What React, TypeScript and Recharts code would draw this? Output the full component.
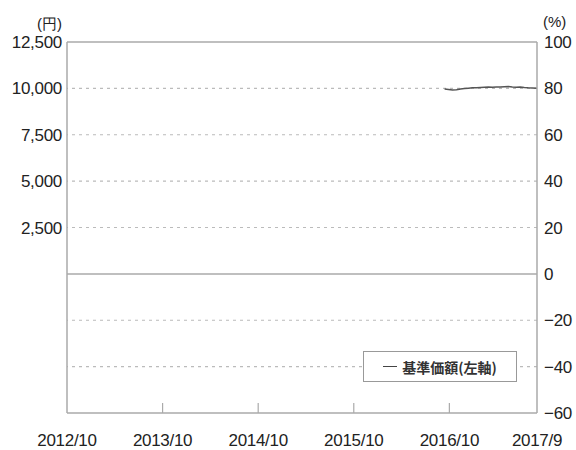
import React from 'react';
import { LineChart, Line, XAxis, YAxis, ReferenceLine, Legend } from 'recharts';

// months since 2012/10
const months = [
  47.4, 47.9, 48.4, 48.9, 49.4, 49.9, 50.4, 50.9, 51.4, 51.9, 52.4, 52.9,
  53.4, 53.9, 54.4, 54.9, 55.4, 55.9, 56.4, 56.9, 57.4, 57.9, 58.4, 59,
];
const navValues = [
  9960, 9940, 9910, 9930, 9970, 9990, 10010, 10030, 10040, 10050, 10060, 10070,
  10060, 10070, 10080, 10090, 10100, 10070, 10060, 10080, 10050, 10030, 10020, 10010,
];

const xTicks = [0, 12, 24, 36, 48, 59];
const xLabels = ['2012/10', '2013/10', '2014/10', '2015/10', '2016/10', '2017/9'];
const leftTicks = [2500, 5000, 7500, 10000, 12500];
const rightTicks = [-60, -40, -20, 0, 20, 40, 60, 80, 100];
const dashedGrid = [80, 60, 40, 20, -20, -40];

const data = months.map((m, i) => ({ m, nav: navValues[i] }));

const FONT = '"Liberation Sans", Arial, sans-serif';
const AXIS = '#aaa';
const TEXT = '#222';

const XTick = (props: any) => {
  const { x, y, payload, index } = props;
  const label = xLabels[xTicks.indexOf(payload.value)];
  const inner = index > 0 && index < xTicks.length - 1;
  return (
    <g>
      {inner && <line x1={x} x2={x} y1={y} y2={y - 10} stroke={AXIS} strokeWidth={1.2} />}
      <text x={x} y={y + 33} textAnchor="middle" fontSize={17} fontFamily={FONT} fill={TEXT} letterSpacing={-0.3}>
        {label}
      </text>
    </g>
  );
};

const LegendBox = () => (
  <div
    style={{
      border: '1px solid #999',
      background: '#fff',
      width: 152,
      height: 29,
      display: 'flex',
      alignItems: 'center',
      justifyContent: 'center',
      fontFamily: '"Noto Sans CJK JP", sans-serif',
      fontSize: 14,
      fontWeight: 700,
      color: '#333',
    }}
  >
    <span style={{ display: 'inline-block', width: 14, height: 0, borderTop: '1.5px solid #444', marginRight: 5 }} />
    基準価額(左軸)
  </div>
);

export default function App() {
  return (
    <div style={{ position: 'absolute', left: 0, top: 0, width: 576, height: 450, background: '#fff' }}>
      <LineChart width={576} height={450} data={data} margin={{ top: 42, right: 0, left: 0, bottom: 0 }}>
        <XAxis
          dataKey="m"
          type="number"
          domain={[0, 59]}
          allowDataOverflow
          ticks={xTicks}
          interval={0}
          height={37}
          tickSize={0}
          tickMargin={0}
          axisLine={{ stroke: AXIS, strokeWidth: 1.5 }}
          tickLine={false}
          tick={<XTick />}
        />
        <YAxis
          yAxisId="left"
          orientation="left"
          width={67}
          type="number"
          domain={[-7500, 12500]}
          allowDataOverflow
          ticks={leftTicks}
          interval={0}
          tickSize={0}
          tickMargin={5}
          tickLine={false}
          axisLine={{ stroke: AXIS, strokeWidth: 1.5 }}
          tickFormatter={(v: number) => v.toLocaleString('en-US')}
          tick={{ fontSize: 17, fontFamily: FONT, fill: TEXT, letterSpacing: -0.3 }}
          label={{
            content: (p: any) => (
              <text x={p.viewBox.x + 62} y={p.viewBox.y - 13} textAnchor="end" fontSize={15} fontFamily={FONT} fill={TEXT}>
                (円)
              </text>
            ),
          }}
        />
        <YAxis
          yAxisId="right"
          orientation="right"
          width={39}
          type="number"
          domain={[-60, 100]}
          allowDataOverflow
          ticks={rightTicks}
          interval={0}
          tickSize={0}
          tickMargin={7}
          tickLine={false}
          axisLine={{ stroke: AXIS, strokeWidth: 1.5 }}
          tickFormatter={(v: number) => (v < 0 ? `\u2212${-v}` : `${v}`)}
          tick={{ fontSize: 17, fontFamily: FONT, fill: TEXT, letterSpacing: -0.3 }}
          label={{
            content: (p: any) => (
              <text x={p.viewBox.x + 6} y={p.viewBox.y - 15} textAnchor="start" fontSize={15} fontFamily={FONT} fill={TEXT}>
                (%)
              </text>
            ),
          }}
        />
        {dashedGrid.map((v) => (
          <ReferenceLine key={v} yAxisId="right" y={v} stroke="#bbb" strokeDasharray="3 4" strokeWidth={1.2} />
        ))}
        <ReferenceLine yAxisId="right" y={0} stroke={AXIS} strokeWidth={1.5} />
        <ReferenceLine yAxisId="right" y={100} stroke={AXIS} strokeWidth={1.5} />
        <Legend
          layout="horizontal"
          align="center"
          verticalAlign="middle"
          content={<LegendBox />}
          wrapperStyle={{ position: 'absolute', left: 363, top: 351, width: 'auto', height: 'auto' }}
        />
        <Line
          yAxisId="left"
          dataKey="nav"
          name="基準価額(左軸)"
          stroke="#555"
          strokeWidth={1.5}
          dot={false}
          isAnimationActive={false}
        />
      </LineChart>
    </div>
  );
}
